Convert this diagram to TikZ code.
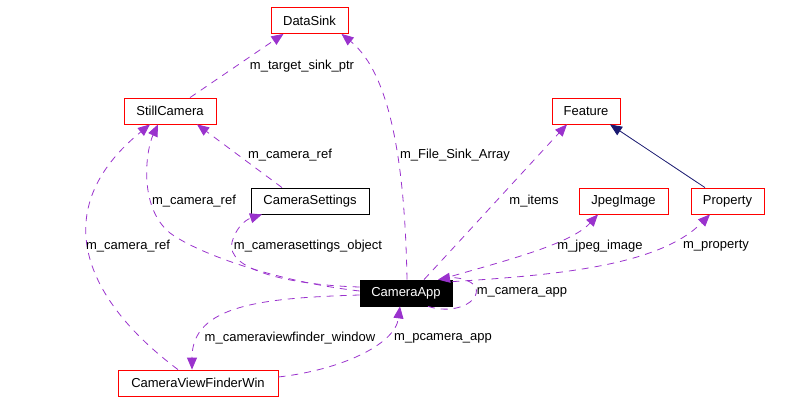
\documentclass[tikz,border=0pt]{standalone}
\usepackage{fontspec}
\setmainfont{Liberation Sans}
\usetikzlibrary{arrows.meta,calc}
\definecolor{edgepurple}{HTML}{9A32CD}
\definecolor{navyedge}{HTML}{191970}
\tikzset{
  cls/.style={draw=red, line width=0.8pt, minimum height=26pt, inner sep=0pt, font=\fontsize{13}{15}\selectfont, fill=white},
  clsblack/.style={draw=black, line width=0.8pt, minimum height=26pt, inner sep=0pt, font=\fontsize{13}{15}\selectfont},
  rel/.style={draw=edgepurple, line width=0.8pt, dash pattern=on 7pt off 6pt, -{Triangle[length=12pt,width=10pt,fill=edgepurple]}},
  inh/.style={draw=navyedge, line width=0.8pt, -{Triangle[length=12pt,width=10pt,fill=navyedge]}},
  lbl/.style={inner sep=0pt, font=\fontsize{13}{15}\selectfont}
}
\begin{document}
\begin{tikzpicture}[x=1pt,y=-1pt]
\useasboundingbox (0,0) rectangle (803,403);
% nodes
\node[cls, minimum width=77pt] (ds) at (309.5,20.5) {DataSink};
\node[cls, minimum width=92pt] (sc) at (170,111) {StillCamera};
\node[cls, minimum width=68pt] (fe) at (586,111) {Feature};
\node[clsblack, minimum width=118pt] (cs) at (310,201) {CameraSettings};
\node[cls, minimum width=89pt] (jp) at (623.5,201) {JpegImage};
\node[cls, minimum width=73pt] (pr) at (727.5,201) {Property};
\node[clsblack, fill=black, text=white, minimum width=92pt] (ca) at (406,293) {CameraApp};
\node[cls, minimum width=160pt] (cv) at (198,383) {CameraViewFinderWin};
% edges
\draw[rel] ($(sc.north)+(20,0)$) -- ($(ds.south)+(-26,0)$);
\draw[rel] ($(ca.north)+(1,0)$) .. controls (405,170) and (392,75) .. ($(ds.south)+(32,0)$);
\draw[rel] ($(cs.north)+(-28,0)$) -- ($(sc.south)+(27,0)$);
\draw[rel] ($(ca.west)+(0,-2)$) .. controls (280,282) and (200,255) .. (170,233) .. controls (138,207) and (146,150) .. ($(sc.south)+(-12,0)$);
\draw[rel] ($(cv.north)+(-20,0)$) .. controls (85,300) and (45,210) .. ($(sc.south)+(-20,0)$);
\draw[rel] ($(ca.west)+(0,-6)$) .. controls (290,285) and (225,270) .. (232,242) .. controls (236,228) and (245,220) .. ($(cs.south)+(-48,0)$);
\draw[rel] ($(ca.north)+(18,0)$) .. controls (470,230) and (520,175) .. ($(fe.south)+(-19,0)$);
\draw[rel] ($(ca.north)+(34,0)$) .. controls (500,262) and (570,245) .. ($(jp.south)+(-25.5,0)$);
\draw[rel] ($(ca.north east)+(0,2)$) .. controls (560,275) and (660,265) .. ($(pr.south)+(-17.5,0)$);
\draw[inh] ($(pr.north)+(-22.5,0)$) -- ($(fe.south)+(24,0)$);
\draw[rel] ($(ca.south)+(22,0)$) .. controls (455,315) and (480,302) .. (476,288) .. controls (472,279) and (455,277) .. ($(ca.north)+(32,0)$);
\draw[rel] ($(ca.west)+(0,2)$) .. controls (262,298) and (192,305) .. ($(cv.north)+(-6,0)$);
\draw[rel] ($(cv.east)+(0,-6)$) .. controls (340,370) and (395,345) .. ($(ca.south)+(-6,0)$);
% labels
\node[lbl] (l1) at (302,66) {m\_target\_sink\_ptr};
\node[lbl] (l2) at (455,155) {m\_File\_Sink\_Array};
\node[lbl] (l3) at (290,155) {m\_camera\_ref};
\node[lbl] (l4) at (194,201) {m\_camera\_ref};
\node[lbl] (l5) at (128,246) {m\_camera\_ref};
\node[lbl] (l6) at (308,246) {m\_camerasettings\_object};
\node[lbl] (l7) at (534,201) {m\_items};
\node[lbl] (l8) at (600,246) {m\_jpeg\_image};
\node[lbl] (l9) at (716,246) {m\_property};
\node[lbl] (l10) at (522,292) {m\_camera\_app};
\node[lbl] (l11) at (290,338) {m\_cameraviewfinder\_window};
\node[lbl] (l12) at (443,338) {m\_pcamera\_app};
\end{tikzpicture}
\end{document}
